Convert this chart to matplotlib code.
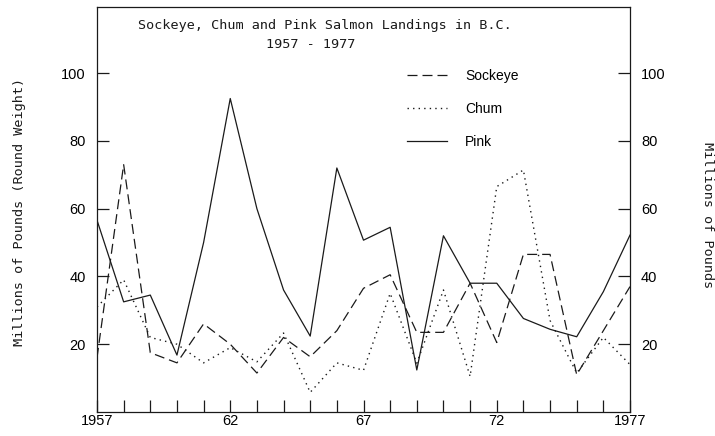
import matplotlib
matplotlib.use("Agg")
import matplotlib.pyplot as plt

# B.C. salmon landings, millions of pounds (round weight)
years = list(range(1957, 1978))
sockeye = [16, 73, 17.5, 14.5, 26, 20, 11.5, 22, 16.3, 24, 36.5, 40.5,
           23.5, 23.5, 38, 20.5, 46.5, 46.5, 11, 24, 37]
chum = [31, 39, 22, 20, 14.5, 19, 14.8, 23.3, 5.8, 14.5, 12.3, 35,
        14.4, 36, 10.5, 66.5, 71.4, 27, 11.5, 22, 14]
pink = [56.6, 32.5, 34.5, 16.8, 50, 92.5, 60, 36, 22.4, 72, 50.7, 54.5,
        12.4, 52, 38, 38, 27.6, 24.4, 22.2, 35.5, 52.2]

x_labels = {1957: "1957", 1962: "62", 1967: "67", 1972: "72", 1977: "1977"}
y_ticks = [20, 40, 60, 80, 100]

W, H = 715, 436
ink = "#1a1a1a"
mono = "DejaVu Sans Mono"
sans = "Liberation Sans"

fig = plt.figure(figsize=(W / 100, H / 100), dpi=100)
ax = fig.add_axes([97 / W, 1 - 412 / H, (630 - 97) / W, (412 - 7) / H])

ax.plot(years, sockeye, color=ink, lw=0.9, dashes=(8, 4), label="Sockeye")
ax.plot(years, chum, color=ink, lw=1.0, dashes=(1, 3), label="Chum")
ax.plot(years, pink, color=ink, lw=0.9, label="Pink")

ax.set_xlim(1957, 1977)
ax.set_ylim(0, 119.5)
ax.set_xticks(years)
ax.set_xticklabels([x_labels.get(y, "") for y in years], family=sans, fontsize=10.5)
ax.set_yticks(y_ticks)
ax.set_yticklabels([str(v) for v in y_ticks], family=sans, fontsize=10.5)

ax.tick_params(axis="x", direction="in", length=8.6, width=0.9, color=ink, pad=1.5)
ax.tick_params(axis="y", direction="in", length=8.6, width=0.9, color=ink,
               left=True, right=True, labelleft=True, labelright=True, pad=8)
for s in ax.spines.values():
    s.set_color(ink)
    s.set_linewidth(0.9)

ax.legend(loc="upper left", bbox_to_anchor=(407 / W, 1 - 69 / H),
          bbox_transform=fig.transFigure, frameon=False, borderpad=0,
          borderaxespad=0, handlelength=2.9, handletextpad=1.3,
          labelspacing=1.38, prop={"family": sans, "size": 10})

fig.text(325 / W, 1 - 25 / H, "Sockeye, Chum and Pink Salmon Landings in B.C.",
         family=mono, fontsize=9.7, ha="center", va="center", color=ink)
fig.text(311 / W, 1 - 44 / H, "1957 - 1977",
         family=mono, fontsize=9.7, ha="center", va="center", color=ink)
fig.text(20 / W, 1 - 212 / H, "Millions of Pounds (Round Weight)",
         family=mono, fontsize=9.7, rotation=90, ha="center", va="center", color=ink)
fig.text(707 / W, 1 - 215 / H, "Millions of Pounds",
         family=mono, fontsize=9.7, rotation=270, ha="center", va="center", color=ink)

fig.savefig("out.png", dpi=100, facecolor="white")
